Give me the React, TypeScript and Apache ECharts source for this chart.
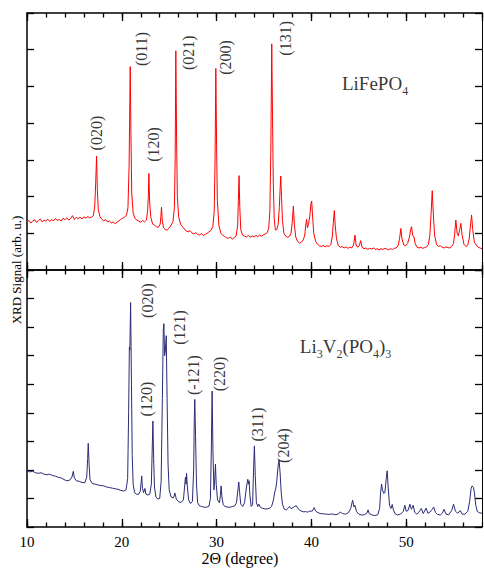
import { useEffect, useRef } from 'react';
import * as echarts from 'echarts';

// ---------- data ----------
const xMin = 10;
const xMax = 58;
const topYMax = 7;
const bottomYMax = 9;

// LiFePO4 pattern: [2theta, signal]
const lfpPattern: [number, number][] = [
  [10.0, 1.30], [10.2, 1.35], [10.4, 1.28], [10.6, 1.33], [10.8, 1.37], [11.0, 1.30], [11.2, 1.34], [11.4, 1.39],
  [11.6, 1.31], [11.8, 1.36], [12.0, 1.33], [12.2, 1.38], [12.4, 1.32], [12.6, 1.37], [12.8, 1.34], [13.0, 1.40],
  [13.2, 1.35], [13.4, 1.38], [13.6, 1.33], [13.8, 1.41], [14.0, 1.37], [14.2, 1.42], [14.4, 1.36], [14.6, 1.40],
  [14.8, 1.48], [15.0, 1.38], [15.2, 1.43], [15.4, 1.40], [15.6, 1.44], [15.8, 1.39], [16.0, 1.45], [16.2, 1.41],
  [16.4, 1.46], [16.6, 1.42], [16.8, 1.44], [17.0, 1.48], [17.15, 1.75], [17.25, 2.4], [17.34, 3.10], [17.42, 2.2],
  [17.52, 1.65], [17.7, 1.45], [17.9, 1.38], [18.1, 1.34], [18.3, 1.37], [18.5, 1.31], [18.7, 1.33], [18.9, 1.28],
  [19.1, 1.31], [19.3, 1.26], [19.5, 1.30], [19.7, 1.34], [19.9, 1.38], [20.1, 1.41], [20.3, 1.44], [20.5, 1.50],
  [20.65, 1.70], [20.77, 2.8], [20.89, 5.54], [20.97, 3.6], [21.05, 2.1], [21.2, 1.55], [21.4, 1.40], [21.6, 1.36],
  [21.8, 1.33], [22.0, 1.30], [22.2, 1.35], [22.4, 1.31], [22.6, 1.36], [22.72, 1.6], [22.8, 2.0], [22.86, 2.63],
  [22.93, 1.9], [23.05, 1.45], [23.25, 1.25], [23.45, 1.22], [23.65, 1.18], [23.85, 1.16], [24.05, 1.25], [24.12, 1.45],
  [24.19, 1.71], [24.27, 1.35], [24.4, 1.15], [24.6, 1.10], [24.8, 1.09], [25.0, 1.14], [25.2, 1.22], [25.4, 1.32],
  [25.55, 1.7], [25.63, 3.0], [25.70, 5.97], [25.78, 3.6], [25.86, 2.0], [26.0, 1.45], [26.2, 1.25], [26.4, 1.18],
  [26.6, 1.12], [26.8, 1.06], [27.0, 1.04], [27.2, 1.07], [27.4, 1.01], [27.6, 0.98], [27.8, 1.02], [28.0, 0.97],
  [28.2, 0.95], [28.4, 0.99], [28.6, 0.94], [28.8, 0.97], [29.0, 1.00], [29.2, 1.04], [29.4, 1.08], [29.6, 1.18],
  [29.75, 1.6], [29.84, 3.0], [29.92, 5.49], [30.0, 3.4], [30.08, 1.9], [30.25, 1.2], [30.45, 1.0], [30.65, 0.95],
  [30.85, 0.91], [31.05, 0.88], [31.25, 0.86], [31.45, 0.90], [31.65, 0.84], [31.85, 0.88], [32.05, 0.92], [32.22, 1.2],
  [32.3, 1.9], [32.37, 2.57], [32.45, 1.7], [32.55, 1.1], [32.75, 0.95], [32.95, 0.92], [33.15, 0.90], [33.35, 0.94],
  [33.55, 0.89], [33.75, 0.93], [33.95, 0.90], [34.15, 0.94], [34.35, 0.91], [34.55, 0.95], [34.75, 0.92], [34.95, 0.96],
  [35.15, 0.98], [35.35, 1.02], [35.5, 1.15], [35.62, 1.6], [35.72, 3.2], [35.82, 6.16], [35.9, 4.2], [35.98, 2.4],
  [36.08, 1.4], [36.2, 1.09], [36.35, 1.1], [36.5, 1.25], [36.62, 1.7], [36.7, 2.2], [36.77, 2.56], [36.85, 2.0],
  [36.95, 1.35], [37.1, 1.0], [37.3, 0.92], [37.5, 0.89], [37.7, 0.92], [37.85, 1.0], [37.98, 1.3], [38.1, 1.74],
  [38.2, 1.25], [38.35, 0.9], [38.55, 0.78], [38.75, 0.73], [38.95, 0.76], [39.15, 0.82], [39.3, 0.95], [39.42, 1.25],
  [39.5, 1.38], [39.58, 1.15], [39.7, 1.25], [39.85, 1.5], [39.95, 1.8], [40.03, 1.88], [40.12, 1.5], [40.25, 1.0],
  [40.45, 0.78], [40.65, 0.70], [40.85, 0.66], [41.05, 0.64], [41.25, 0.67], [41.45, 0.63], [41.65, 0.66], [41.85, 0.64],
  [42.05, 0.69], [42.2, 0.9], [42.32, 1.3], [42.42, 1.62], [42.52, 1.2], [42.65, 0.85], [42.85, 0.66], [43.05, 0.62],
  [43.25, 0.64], [43.45, 0.60], [43.65, 0.63], [43.85, 0.59], [44.05, 0.62], [44.25, 0.60], [44.45, 0.68], [44.6, 0.95],
  [44.72, 0.68], [44.9, 0.62], [45.05, 0.66], [45.2, 0.80], [45.35, 0.62], [45.55, 0.58], [45.75, 0.60], [45.95, 0.56],
  [46.15, 0.59], [46.35, 0.57], [46.55, 0.60], [46.75, 0.56], [46.95, 0.58], [47.15, 0.55], [47.35, 0.58], [47.55, 0.56],
  [47.75, 0.59], [47.95, 0.57], [48.15, 0.55], [48.35, 0.58], [48.55, 0.56], [48.75, 0.59], [48.95, 0.60], [49.15, 0.66],
  [49.3, 0.85], [49.44, 1.13], [49.56, 0.85], [49.75, 0.68], [49.95, 0.66], [50.15, 0.72], [50.35, 0.9], [50.47, 1.1],
  [50.57, 1.18], [50.68, 0.95], [50.82, 0.90], [50.95, 0.72], [51.15, 0.62], [51.35, 0.60], [51.55, 0.62], [51.75, 0.59],
  [51.95, 0.61], [52.15, 0.63], [52.35, 0.70], [52.5, 0.95], [52.62, 1.5], [52.75, 2.16], [52.87, 1.5], [53.0, 0.95],
  [53.2, 0.70], [53.4, 0.64], [53.6, 0.66], [53.8, 0.62], [54.0, 0.60], [54.2, 0.63], [54.4, 0.61], [54.6, 0.60],
  [54.8, 0.64], [55.0, 0.72], [55.12, 1.0], [55.24, 1.36], [55.38, 1.0], [55.5, 0.93], [55.65, 1.1], [55.77, 1.27],
  [55.9, 0.95], [56.1, 0.70], [56.3, 0.64], [56.5, 0.68], [56.65, 0.85], [56.78, 1.2], [56.9, 1.50], [57.02, 1.1],
  [57.2, 0.75], [57.4, 0.68], [57.6, 0.62], [57.8, 0.60], [58.0, 0.58],
];

// Li3V2(PO4)3 pattern: [2theta, signal]
const lvpPattern: [number, number][] = [
  [10.0, 1.97], [10.3, 1.93], [10.6, 1.95], [10.9, 1.90], [11.2, 1.88], [11.5, 1.90], [11.8, 1.85], [12.1, 1.83],
  [12.4, 1.85], [12.7, 1.80], [13.0, 1.78], [13.3, 1.74], [13.6, 1.72], [13.9, 1.66], [14.2, 1.62], [14.5, 1.64],
  [14.75, 1.75], [14.88, 1.95], [15.0, 1.72], [15.2, 1.62], [15.5, 1.60], [15.8, 1.56], [16.1, 1.55], [16.3, 1.75],
  [16.4, 2.4], [16.46, 2.93], [16.55, 2.2], [16.65, 1.65], [16.9, 1.52], [17.2, 1.50], [17.5, 1.47], [17.8, 1.45],
  [18.1, 1.44], [18.4, 1.40], [18.7, 1.38], [19.0, 1.36], [19.3, 1.34], [19.6, 1.32], [19.9, 1.28], [20.2, 1.26],
  [20.45, 1.30], [20.62, 1.7], [20.72, 4.0], [20.8, 6.3], [20.85, 6.2], [20.93, 7.86], [21.02, 5.0], [21.1, 2.5],
  [21.2, 1.5], [21.35, 1.2], [21.55, 1.15], [21.75, 1.14], [21.95, 1.25], [22.05, 1.6], [22.1, 1.79], [22.18, 1.35],
  [22.3, 1.2], [22.44, 1.35], [22.55, 1.15], [22.75, 1.12], [22.95, 1.15], [23.12, 1.5], [23.2, 2.6], [23.28, 3.71],
  [23.36, 2.4], [23.45, 1.4], [23.6, 1.05], [23.8, 0.98], [24.0, 1.0], [24.15, 1.6], [24.28, 4.5], [24.38, 6.9],
  [24.44, 7.12], [24.52, 6.0], [24.6, 6.2], [24.69, 6.7], [24.78, 4.5], [24.88, 2.2], [25.0, 1.3], [25.2, 1.05],
  [25.45, 1.02], [25.6, 1.19], [25.75, 0.98], [26.0, 0.88], [26.25, 0.86], [26.5, 0.95], [26.65, 1.5], [26.72, 1.75],
  [26.78, 1.5], [26.83, 1.88], [26.92, 1.4], [27.05, 0.95], [27.25, 0.82], [27.45, 0.9], [27.58, 2.0], [27.65, 3.8],
  [27.7, 4.47], [27.78, 3.2], [27.88, 1.5], [28.0, 0.85], [28.2, 0.74], [28.4, 0.72], [28.6, 0.70], [28.8, 0.69],
  [29.0, 0.70], [29.2, 0.73], [29.35, 1.0], [29.45, 2.8], [29.53, 4.76], [29.62, 2.6], [29.72, 1.3], [29.8, 1.6],
  [29.88, 2.2], [29.96, 1.5], [30.1, 0.95], [30.3, 0.85], [30.4, 1.1], [30.48, 1.44], [30.56, 1.05], [30.7, 0.78],
  [30.9, 0.72], [31.1, 0.70], [31.3, 0.69], [31.5, 0.70], [31.7, 0.72], [31.9, 0.74], [32.1, 0.85], [32.25, 1.3],
  [32.34, 1.58], [32.42, 1.25], [32.55, 0.80], [32.75, 0.72], [32.95, 0.85], [33.15, 1.4], [33.29, 1.67], [33.36, 1.5],
  [33.43, 1.62], [33.52, 1.1], [33.65, 0.72], [33.8, 0.78], [33.9, 2.0], [33.99, 2.84], [34.08, 1.8], [34.2, 0.85],
  [34.35, 0.72], [34.45, 0.80], [34.6, 0.70], [34.8, 0.66], [35.0, 0.64], [35.2, 0.63], [35.4, 0.64], [35.6, 0.66],
  [35.8, 0.72], [36.0, 0.95], [36.15, 1.25], [36.24, 1.33], [36.35, 1.6], [36.48, 2.1], [36.59, 2.35], [36.7, 1.9],
  [36.82, 1.2], [36.95, 0.80], [37.15, 0.62], [37.35, 0.60], [37.55, 0.66], [37.7, 0.72], [37.85, 0.64], [38.05, 0.68],
  [38.25, 0.72], [38.4, 0.75], [38.6, 0.64], [38.8, 0.58], [39.0, 0.55], [39.2, 0.53], [39.4, 0.54], [39.6, 0.52],
  [39.8, 0.55], [40.1, 0.56], [40.3, 0.68], [40.45, 0.56], [40.7, 0.50], [41.0, 0.47], [41.3, 0.46], [41.6, 0.45],
  [41.9, 0.44], [42.2, 0.46], [42.5, 0.43], [42.8, 0.45], [43.05, 0.52], [43.3, 0.47], [43.6, 0.45], [43.9, 0.50],
  [44.15, 0.65], [44.35, 0.94], [44.5, 0.70], [44.6, 0.76], [44.75, 0.55], [45.0, 0.45], [45.3, 0.42], [45.6, 0.43],
  [45.85, 0.48], [45.98, 0.60], [46.1, 0.47], [46.4, 0.42], [46.7, 0.40], [47.0, 0.43], [47.2, 0.65], [47.3, 1.2],
  [47.41, 1.50], [47.5, 1.3], [47.63, 1.18], [47.75, 1.2], [47.9, 1.7], [48.0, 1.97], [48.1, 1.4], [48.25, 0.75],
  [48.4, 0.65], [48.53, 0.79], [48.65, 0.60], [48.85, 0.46], [49.1, 0.42], [49.4, 0.45], [49.7, 0.55], [49.86, 0.76],
  [50.0, 0.55], [50.2, 0.58], [50.39, 0.80], [50.55, 0.62], [50.74, 0.76], [50.9, 0.52], [51.1, 0.45], [51.3, 0.50],
  [51.6, 0.65], [51.8, 0.47], [52.1, 0.66], [52.3, 0.48], [52.5, 0.52], [52.75, 0.62], [52.9, 0.70], [53.1, 0.50],
  [53.3, 0.44], [53.6, 0.42], [53.8, 0.48], [54.0, 0.62], [54.2, 0.45], [54.5, 0.43], [54.8, 0.58], [55.0, 0.80],
  [55.2, 0.55], [55.45, 0.48], [55.7, 0.58], [55.9, 0.45], [56.2, 0.45], [56.5, 0.55], [56.7, 0.90], [56.85, 1.35],
  [56.96, 1.44], [57.1, 1.38], [57.2, 1.20], [57.35, 0.75], [57.5, 0.55], [57.7, 0.50], [58.0, 0.48],
];

// Peak (hkl) labels and their anchor in data coordinates
const lfpPeakNames = ['(020)', '(011)', '(120)', '(021)', '(200)', '(131)'];
const lfpPeakAnchors: [number, number][] = [
  [17.38, 3.73], [22.07, 6.02], [23.33, 3.42], [27.02, 5.92], [30.97, 5.79], [37.29, 6.31],
];
const lvpPeakNames = ['(020)', '(120)', '(121)', '(-121)', '(220)', '(311)', '(204)'];
const lvpPeakAnchors: [number, number][] = [
  [22.70, 7.93], [22.59, 4.48], [26.12, 6.99], [27.54, 5.32], [30.34, 5.36], [34.34, 3.59], [37.03, 2.85],
];

const lfpTitleAnchor: [number, number] = [46.72, 4.98];
const lvpTitleAnchor: [number, number] = [43.61, 6.2];

const xAxisTitle = '2Θ (degree)';
const yAxisTitle = 'XRD Signal (arb. u.)';

// ---------- styling ----------
const FONT = "'Liberation Serif', 'DejaVu Serif', 'Times New Roman', serif";
const INK = '#000000';
const RED = '#ff0000';
const NAVY = '#2b2b76';

export default function App() {
  const ref = useRef<HTMLDivElement>(null);

  useEffect(() => {
    if (!ref.current) return;
    const chart = echarts.init(ref.current, undefined, { renderer: 'svg' });

    const frameLine = { show: true, lineStyle: { color: INK, width: 1.5 } };

    const makeX = (grid: number, position: 'top' | 'bottom', major: boolean, labels: boolean) => ({
      type: 'value',
      gridIndex: grid,
      position,
      min: xMin,
      max: xMax,
      interval: major ? 10 : 2,
      axisLine: major ? frameLine : { show: false },
      axisTick: {
        show: true,
        inside: true,
        length: major ? 8 : 4.5,
        lineStyle: { color: INK, width: 1.3 },
      },
      axisLabel: labels
        ? {
            show: true,
            color: INK,
            fontFamily: FONT,
            fontSize: 15,
            margin: 7,
            showMaxLabel: false,
          }
        : { show: false },
      splitLine: { show: false },
    });

    const makeY = (grid: number, position: 'left' | 'right', max: number) => ({
      type: 'value',
      gridIndex: grid,
      position,
      min: 0,
      max,
      interval: 1,
      axisLine: { show: true, lineStyle: { color: INK, width: position === 'left' ? 1.5 : 1 } },
      axisTick: { show: true, inside: true, length: 7, lineStyle: { color: INK, width: 1.3 } },
      axisLabel: { show: false },
      splitLine: { show: false },
    });

    const peakLabelSeries = (names: string[], anchors: [number, number][], xIdx: number, yIdx: number) => ({
      type: 'scatter',
      xAxisIndex: xIdx,
      yAxisIndex: yIdx,
      silent: true,
      symbolSize: 1,
      itemStyle: { color: 'rgba(0,0,0,0)' },
      data: anchors.map((a, i) => ({ name: names[i], value: a })),
      label: {
        show: true,
        position: 'inside',
        rotate: 90,
        formatter: (p: any) => p.name,
        color: INK,
        fontFamily: FONT,
        fontSize: 16,
      },
      z: 5,
    });

    const rich = {
      n: { fontFamily: FONT, fontSize: 19, color: INK, lineHeight: 20, verticalAlign: 'bottom', padding: [0, 0, 4, 0] },
      s: { fontFamily: FONT, fontSize: 12, color: INK, lineHeight: 12, verticalAlign: 'bottom' },
    };

    const titleSeries = (anchor: [number, number], text: string, xIdx: number, yIdx: number) => ({
      type: 'scatter',
      xAxisIndex: xIdx,
      yAxisIndex: yIdx,
      silent: true,
      symbolSize: 1,
      itemStyle: { color: 'rgba(0,0,0,0)' },
      data: [{ value: anchor }],
      label: { show: true, position: 'inside', formatter: text, rich },
      z: 5,
    });

    chart.setOption({
      animation: false,
      backgroundColor: '#ffffff',
      grid: [
        { left: 27, top: 13, width: 455, height: 257, containLabel: false },
        { left: 27, top: 270, width: 455, height: 257, containLabel: false },
      ],
      xAxis: [
        makeX(0, 'bottom', true, false), // 0
        makeX(0, 'bottom', false, false), // 1
        makeX(0, 'top', true, false), // 2
        makeX(0, 'top', false, false), // 3
        makeX(1, 'bottom', true, true), // 4
        makeX(1, 'bottom', false, false), // 5
        makeX(1, 'top', true, false), // 6
        makeX(1, 'top', false, false), // 7
      ],
      yAxis: [
        makeY(0, 'left', topYMax),
        makeY(0, 'right', topYMax),
        makeY(1, 'left', bottomYMax),
        makeY(1, 'right', bottomYMax),
      ],
      series: [
        {
          type: 'line',
          name: 'LiFePO4',
          xAxisIndex: 0,
          yAxisIndex: 0,
          data: lfpPattern,
          showSymbol: false,
          symbol: 'none',
          silent: true,
          lineStyle: { color: RED, width: 1 },
          z: 3,
        },
        {
          type: 'line',
          name: 'Li3V2(PO4)3',
          xAxisIndex: 4,
          yAxisIndex: 2,
          data: lvpPattern,
          showSymbol: false,
          symbol: 'none',
          silent: true,
          lineStyle: { color: NAVY, width: 1 },
          z: 3,
        },
        peakLabelSeries(lfpPeakNames, lfpPeakAnchors, 0, 0),
        peakLabelSeries(lvpPeakNames, lvpPeakAnchors, 4, 2),
        titleSeries(lfpTitleAnchor, '{n|LiFePO}{s|4}', 0, 0),
        titleSeries(lvpTitleAnchor, '{n|Li}{s|3}{n|V}{s|2}{n|(PO}{s|4}{n|)}{s|3}', 4, 2),
      ],
      graphic: [
        {
          type: 'text',
          x: 16,
          y: 270,
          rotation: Math.PI / 2,
          style: {
            text: yAxisTitle,
            fontFamily: FONT,
            fontSize: 13,
            fill: INK,
            align: 'center',
            verticalAlign: 'middle',
          },
        },
        {
          type: 'text',
          x: 240,
          y: 558,
          style: {
            text: xAxisTitle,
            fontFamily: FONT,
            fontSize: 16,
            fill: INK,
            align: 'center',
            verticalAlign: 'middle',
          },
        },
      ],
    });

    return () => chart.dispose();
  }, []);

  return (
    <div
      ref={ref}
      style={{ position: 'absolute', left: 0, top: 0, width: 484, height: 568, background: '#fff' }}
    />
  );
}
